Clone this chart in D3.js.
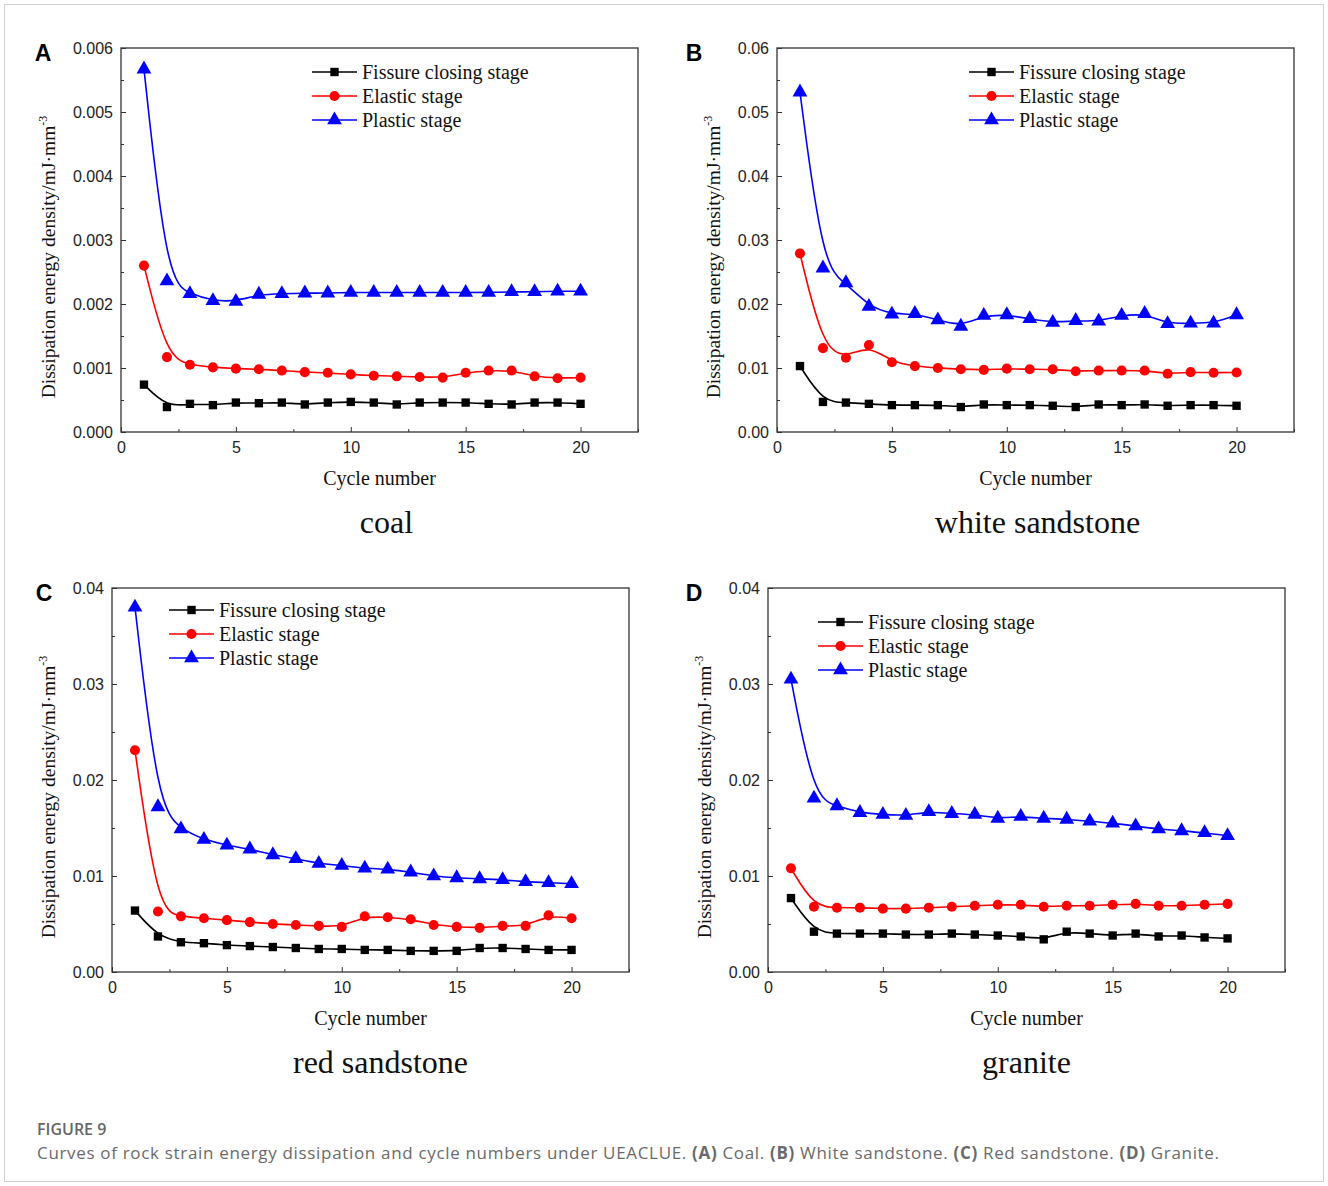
<!DOCTYPE html>
<html>
<head>
<meta charset="utf-8">
<script src="https://cdn.jsdelivr.net/npm/d3@7"></script>
<style>
  body { margin: 0; background: #fff; }
  #chart { width: 1328px; height: 1186px; }
</style>
</head>
<body>
<div id="chart"></div>
<script>
var width = 1328,
  height = 1186;

// cycles (x categories)
var cycles = [1, 2, 3, 4, 5, 6, 7, 8, 9, 10, 11, 12, 13, 14, 15, 16, 17, 18, 19, 20];
var xTicks = [0, 5, 10, 15, 20];

var stages = ["Fissure closing stage", "Elastic stage", "Plastic stage"];

// A - coal
var coalFissure = [0.00074, 0.00039, 0.00044, 0.00042, 0.00046, 0.00045, 0.00046, 0.00043, 0.00046, 0.00047, 0.00046, 0.00043, 0.00046, 0.00046, 0.00046, 0.00044, 0.00043, 0.00046, 0.00046, 0.00044];
var coalElastic = [0.00260, 0.00117, 0.00105, 0.00101, 0.00099, 0.00098, 0.00096, 0.000935, 0.000925, 0.00090, 0.00088, 0.00087, 0.00086, 0.00085, 0.000925, 0.00096, 0.00096, 0.00087, 0.00084, 0.00085];
var coalPlastic = [0.00567, 0.00236, 0.00216, 0.00205, 0.00204, 0.00215, 0.00216, 0.00217, 0.00217, 0.00218, 0.00218, 0.00218, 0.00218, 0.00218, 0.00218, 0.00218, 0.00219, 0.00219, 0.00220, 0.00220];
var coalTicks = [0, 0.001, 0.002, 0.003, 0.004, 0.005, 0.006];

// B - white sandstone
var whiteFissure = [0.0103, 0.0047, 0.0046, 0.0044, 0.0042, 0.0042, 0.0042, 0.0039, 0.0043, 0.0042, 0.0042, 0.0041, 0.0039, 0.0043, 0.0042, 0.0043, 0.0041, 0.0042, 0.0042, 0.0041];
var whiteElastic = [0.0279, 0.0131, 0.0116, 0.0136, 0.0109, 0.0103, 0.0100, 0.0098, 0.0097, 0.0099, 0.0098, 0.0098, 0.0095, 0.0096, 0.0096, 0.0096, 0.0091, 0.00935, 0.00925, 0.0093];
var whitePlastic = [0.0531, 0.0256, 0.0233, 0.0196, 0.0184, 0.0185, 0.0175, 0.0165, 0.0182, 0.0183, 0.0177, 0.0171, 0.0174, 0.0173, 0.0182, 0.0185, 0.0169, 0.0170, 0.0170, 0.0183];
var whiteTicks = [0, 0.01, 0.02, 0.03, 0.04, 0.05, 0.06];

// C - red sandstone
var redFissure = [0.0064, 0.0037, 0.0031, 0.0030, 0.0028, 0.0027, 0.0026, 0.0025, 0.0024, 0.0024, 0.0023, 0.0023, 0.0022, 0.0022, 0.0022, 0.0025, 0.0025, 0.0024, 0.0023, 0.0023];
var redElastic = [0.0231, 0.0063, 0.0058, 0.0056, 0.0054, 0.0052, 0.0050, 0.0049, 0.0048, 0.0047, 0.0058, 0.0057, 0.0055, 0.0049, 0.0047, 0.0046, 0.0048, 0.0048, 0.0059, 0.0056];
var redPlastic = [0.0380, 0.0172, 0.0149, 0.0138, 0.0132, 0.0128, 0.0122, 0.0118, 0.0113, 0.0111, 0.0108, 0.0107, 0.0104, 0.0100, 0.0098, 0.0097, 0.0096, 0.0094, 0.0093, 0.0092];
var redTicks = [0, 0.01, 0.02, 0.03, 0.04];

// D - granite
var graniteFissure = [0.0077, 0.0042, 0.0040, 0.0040, 0.0040, 0.0039, 0.0039, 0.0040, 0.0039, 0.0038, 0.0037, 0.0034, 0.0042, 0.0040, 0.0038, 0.0040, 0.0037, 0.0038, 0.0036, 0.0035];
var graniteElastic = [0.0108, 0.0068, 0.0067, 0.0067, 0.0066, 0.0066, 0.0067, 0.0068, 0.0069, 0.0070, 0.0070, 0.0068, 0.0069, 0.0069, 0.0070, 0.0071, 0.0069, 0.0069, 0.0070, 0.0071];
var granitePlastic = [0.0305, 0.0181, 0.0173, 0.0166, 0.0164, 0.0163, 0.0167, 0.0165, 0.0164, 0.0160, 0.0162, 0.0160, 0.0159, 0.0157, 0.0155, 0.0152, 0.0149, 0.0147, 0.0145, 0.0142];
var graniteTicks = [0, 0.01, 0.02, 0.03, 0.04];


var colors = ["#000000", "#ff0000", "#0000ff"]
var symbols = [d3.symbolSquare, d3.symbolCircle, d3.symbolTriangle]
var symbolSizes = [70, 80, 95]

var serif = '"Liberation Serif", "Times New Roman", serif'
var sans = '"Liberation Sans", Arial, sans-serif'

var panels = [
  { letter: "A", name: "coal", left: 121, top: 48, ticks: coalTicks, fmt: ".3f", letterX: 43,
    series: [coalFissure, coalElastic, coalPlastic], legendX: 312, legendY: 72, labelDx: 73, titleDx: 7 },
  { letter: "B", name: "white sandstone", left: 777, top: 48, ticks: whiteTicks, fmt: ".2f", letterX: 694,
    series: [whiteFissure, whiteElastic, whitePlastic], legendX: 969, legendY: 72, labelDx: 64, titleDx: 2 },
  { letter: "C", name: "red sandstone", left: 112, top: 588, ticks: redTicks, fmt: ".2f", letterX: 44,
    series: [redFissure, redElastic, redPlastic], legendX: 169, legendY: 610, labelDx: 64, titleDx: 10 },
  { letter: "D", name: "granite", left: 768, top: 588, ticks: graniteTicks, fmt: ".2f", letterX: 694,
    series: [graniteFissure, graniteElastic, granitePlastic], legendX: 818, legendY: 622, labelDx: 64, titleDx: 0 }
]

var plotW = 517,
  plotH = 384;

var svg = d3.select("#chart")
  .append("svg")
  .attr("width", width)
  .attr("height", height)

// light outer frame
svg.append("rect")
  .attr("x", 4.5).attr("y", 4.5)
  .attr("width", width - 9).attr("height", height - 9)
  .attr("fill", "none")
  .attr("stroke", "#d0d0d0")
  .attr("stroke-width", 1)

panels.forEach(function (p) {
  var g = svg.append("g").attr("transform", "translate(" + p.left + "," + p.top + ")")

  var x = d3.scaleLinear().domain([0, 22.5]).range([0, plotW])
  var yMax = p.ticks[p.ticks.length - 1]
  var y = d3.scaleLinear().domain([0, yMax]).range([plotH, 0])

  var xMinor = xTicks.map(function (t) { return t + 2.5 })
  var yMinor = p.ticks.slice(0, -1).map(function (t, i) { return (t + p.ticks[i + 1]) / 2 })

  // axes, ticks inward
  g.append("g").attr("transform", "translate(0," + plotH + ")")
    .call(d3.axisBottom(x).tickValues(xTicks).tickSizeInner(-5).tickSizeOuter(0).tickPadding(10).tickFormat(d3.format("d")))
  g.append("g").attr("transform", "translate(0," + plotH + ")")
    .call(d3.axisBottom(x).tickValues(xMinor).tickSizeInner(-3).tickSizeOuter(0).tickFormat(""))
  g.append("g")
    .call(d3.axisLeft(y).tickValues(p.ticks).tickSizeInner(-5).tickSizeOuter(0).tickPadding(8).tickFormat(d3.format(p.fmt)))
  g.append("g")
    .call(d3.axisLeft(y).tickValues(yMinor).tickSizeInner(-3).tickSizeOuter(0).tickFormat(""))

  g.selectAll(".domain").remove()
  g.selectAll(".tick line").attr("stroke", "#333").attr("stroke-width", 1)
  g.selectAll(".tick text")
    .attr("fill", "#222")
    .style("font-family", sans)
    .style("font-size", "16px")

  g.append("rect")
    .attr("width", plotW).attr("height", plotH)
    .attr("fill", "none")
    .attr("stroke", "#333")
    .attr("stroke-width", 1.3)

  // lines + markers
  var line = d3.line()
    .x(function (d, i) { return x(cycles[i]) })
    .y(function (d) { return y(d) })
    .curve(d3.curveBasis)

  p.series.forEach(function (vals, k) {
    g.append("path")
      .datum(vals)
      .attr("d", line)
      .attr("fill", "none")
      .attr("stroke", colors[k])
      .attr("stroke-width", 1.6)

    g.selectAll(".mark" + k)
      .data(vals)
      .enter().append("path")
      .attr("class", "mark" + k)
      .attr("transform", function (d, i) { return "translate(" + x(cycles[i]) + "," + y(d) + ")" })
      .attr("d", d3.symbol().type(symbols[k]).size(symbolSizes[k]))
      .attr("fill", colors[k])
  })

  // legend
  stages.forEach(function (s, k) {
    var ly = p.legendY - p.top + k * 24
    var lx = p.legendX - p.left
    g.append("line")
      .attr("x1", lx).attr("x2", lx + 45)
      .attr("y1", ly).attr("y2", ly)
      .attr("stroke", colors[k]).attr("stroke-width", 1.6)
    g.append("path")
      .attr("transform", "translate(" + (lx + 22.5) + "," + ly + ")")
      .attr("d", d3.symbol().type(symbols[k]).size(symbolSizes[k]))
      .attr("fill", colors[k])
    g.append("text")
      .attr("x", lx + 50).attr("y", ly)
      .attr("dy", "0.33em")
      .text(s)
      .style("font-family", serif)
      .style("font-size", "20px")
      .attr("fill", "#111")
  })

  // y label
  var yl = g.append("text")
    .attr("transform", "translate(" + (-p.labelDx) + "," + (plotH / 2 + 17) + ") rotate(-90)")
    .attr("text-anchor", "middle")
    .attr("dy", "0.35em")
    .style("font-family", serif)
    .style("font-size", "19.5px")
    .attr("fill", "#111")
  yl.append("tspan").text("Dissipation energy density/mJ·mm")
  yl.append("tspan").attr("dy", "-8").style("font-size", "12px").text("-3")

  // x label
  g.append("text")
    .attr("x", plotW / 2).attr("y", plotH + 53)
    .attr("text-anchor", "middle")
    .text("Cycle number")
    .style("font-family", serif)
    .style("font-size", "20px")
    .attr("fill", "#111")

  // panel title
  g.append("text")
    .attr("x", plotW / 2 + p.titleDx).attr("y", plotH + 101)
    .attr("text-anchor", "middle")
    .text(p.name)
    .style("font-family", serif)
    .style("font-size", "32px")
    .attr("fill", "#111")

  // panel letter
  g.append("text")
    .attr("x", p.letterX - p.left)
    .attr("y", 5)
    .attr("dy", "0.35em")
    .attr("text-anchor", "middle")
    .text(p.letter)
    .style("font-family", sans)
    .style("font-weight", "bold")
    .style("font-size", "23px")
    .attr("fill", "#000")
})

// caption
svg.append("text")
  .attr("x", 37).attr("y", 1135)
  .text("FIGURE 9")
  .style("font-family", '"Open Sans", sans-serif')
  .style("font-weight", "600")
  .style("font-size", "16px")
  .attr("fill", "#666")

var cap = svg.append("text")
  .attr("x", 37).attr("y", 1159)
  .attr("textLength", 1182)
  .attr("lengthAdjust", "spacing")
  .style("font-family", '"Open Sans", sans-serif')
  .style("font-size", "17px")
  .attr("fill", "#6a6a6a")

var capParts = [
  ["Curves of rock strain energy dissipation and cycle numbers under UEACLUE. ", false],
  ["(A)", true], [" Coal. ", false],
  ["(B)", true], [" White sandstone. ", false],
  ["(C)", true], [" Red sandstone. ", false],
  ["(D)", true], [" Granite.", false]
]
capParts.forEach(function (c) {
  cap.append("tspan").text(c[0]).style("font-weight", c[1] ? "700" : "400")
})
</script>
</body>
</html>
